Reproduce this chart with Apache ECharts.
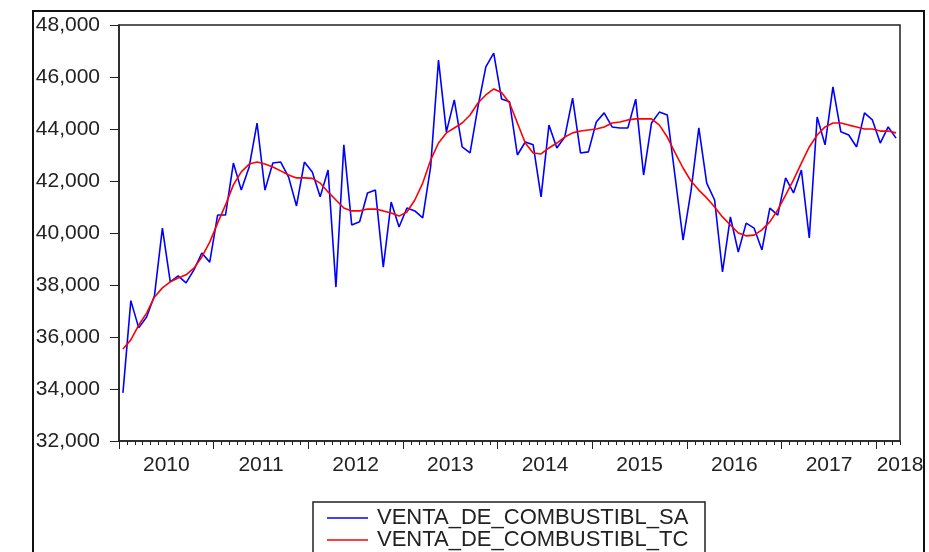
<!DOCTYPE html>
<html>
<head>
<meta charset="utf-8">
<style>
html, body { margin: 0; padding: 0; background: #fff; }
#chart { width: 929px; height: 552px; }
</style>
<script src="https://cdn.jsdelivr.net/npm/echarts@6/dist/echarts.min.js"></script>
</head>
<body>
<div id="chart"></div>
<script>
// monthly series, 2010M01 .. 2018M03
var years = ['2010', '2011', '2012', '2013', '2014', '2015', '2016', '2017', '2018'];
var seriesNames = ['VENTA_DE_COMBUSTIBL_SA', 'VENTA_DE_COMBUSTIBL_TC'];

var ventaSA = [
  33850, 37400, 36350, 36770, 37600, 40190, 38120, 38350, 38080, 38580, 39230, 38880,
  40690, 40690, 42690, 41650, 42540, 44230, 41650, 42690, 42730, 42150, 41040, 42730,
  42350, 41390, 42420, 37920, 43390, 40310, 40430, 41540, 41650, 38690, 41190, 40230,
  40960, 40850, 40580, 42540, 46650, 43890, 45120, 43310, 43080, 44850, 46390, 46920,
  45150, 45050, 43000, 43500, 43390, 41390, 44150, 43270, 43690, 45190, 43080, 43120,
  44270, 44620, 44080, 44040, 44040, 45150, 42230, 44230, 44650, 44540, 42150, 39730,
  41600, 44040, 41920, 41270, 38500, 40620, 39270, 40380, 40190, 39350, 40960, 40690,
  42120, 41540, 42420, 39810, 44460, 43390, 45620, 43890, 43770, 43310, 44620, 44350,
  43460, 44080, 43650
];

var ventaTC = [
  35540, 35890, 36460, 36920, 37540, 37890, 38120, 38270, 38390, 38650, 39080, 39650,
  40380, 41080, 41850, 42350, 42650, 42730, 42650, 42540, 42390, 42230, 42120, 42120,
  42100, 41920, 41580, 41270, 40960, 40850, 40850, 40920, 40920, 40850, 40770, 40650,
  40810, 41270, 41920, 42800, 43460, 43850, 44040, 44230, 44540, 45000, 45310, 45540,
  45400, 45000, 44230, 43460, 43080, 43040, 43270, 43460, 43690, 43850, 43920, 43960,
  44000, 44080, 44230, 44270, 44350, 44390, 44390, 44390, 44150, 43690, 43080, 42500,
  42000, 41650, 41350, 41000, 40620, 40310, 40000, 39890, 39920, 40120, 40430, 40890,
  41460, 42040, 42690, 43310, 43770, 44080, 44230, 44230, 44150, 44080, 44000, 44000,
  43920, 43920, 43850
];

var yMin = 32000, yMax = 48000, yStep = 2000;

var n = ventaSA.length;
var xMin = -0.5, xMax = n - 0.5;

// tick positions between months, longer ones between years
var monthEdges = [];
for (var i = 0; i <= n; i++) monthEdges.push(i - 0.5);
var yearEdges = [];
var yearPos = [];
var labelAt = {};
for (var k = 0; k < years.length; k++) {
  yearEdges.push(k * 12 - 0.5);
  var p = Math.min(k * 12 + 5.5, xMax);
  yearPos.push(p);
  labelAt[p] = years[k];
}

var font = "'Liberation Sans', Arial, sans-serif";
var ink = '#222';

var chart = echarts.init(document.getElementById('chart'));
chart.setOption({
  animation: false,
  grid: {
    left: 119, right: 29, top: 25, bottom: 111,
    show: true, borderColor: ink, borderWidth: 1.5
  },
  xAxis: [{
    type: 'value', position: 'bottom', min: xMin, max: xMax,
    axisLine: { onZero: false, lineStyle: { color: ink, width: 1.5 } },
    axisTick: { customValues: monthEdges, length: 4, lineStyle: { color: ink } },
    axisLabel: { show: false },
    splitLine: { show: false }
  }, {
    type: 'value', position: 'bottom', offset: 0, min: xMin, max: xMax,
    axisLine: { show: false, onZero: false },
    axisTick: { customValues: yearEdges, length: 8, lineStyle: { color: ink } },
    axisLabel: {
      customValues: yearPos, margin: 14,
      fontSize: 21, fontFamily: font, color: ink,
      formatter: function (v) { return labelAt[v] || ''; }
    },
    splitLine: { show: false }
  }],
  yAxis: {
    type: 'value', min: yMin, max: yMax, interval: yStep,
    axisLine: { show: true, onZero: false, lineStyle: { color: ink, width: 1.5 } },
    axisTick: { show: true, length: 9, lineStyle: { color: ink } },
    axisLabel: {
      margin: 19, fontSize: 21, fontFamily: font, color: ink,
      formatter: function (v) { return String(v).replace(/\B(?=(\d{3})+(?!\d))/g, ','); }
    },
    splitLine: { show: false }
  },
  legend: {
    orient: 'vertical', left: 327, top: 507,
    data: seriesNames,
    icon: 'rect',
    itemWidth: 41, itemHeight: 1.5, itemGap: 0,
    padding: 0,
    textStyle: { fontSize: 22, fontFamily: font, color: ink, lineHeight: 22, padding: [0, 0, 0, 4] }
  },
  graphic: [{
    type: 'rect',
    shape: { x: 33, y: 11, width: 891, height: 580 },
    style: { fill: 'none', stroke: '#111', lineWidth: 2 },
    silent: true
  }, {
    type: 'rect',
    shape: { x: 313, y: 502, width: 392, height: 80 },
    style: { fill: 'none', stroke: ink, lineWidth: 1.5 },
    silent: true
  }],
  series: [{
    name: seriesNames[0], type: 'line', symbol: 'none',
    lineStyle: { color: '#0000ff', width: 1.6 },
    itemStyle: { color: '#0000ff' },
    data: ventaSA.map(function (v, i) { return [i, v]; })
  }, {
    name: seriesNames[1], type: 'line', symbol: 'none',
    lineStyle: { color: '#ff0000', width: 1.6 },
    itemStyle: { color: '#ff0000' },
    data: ventaTC.map(function (v, i) { return [i, v]; })
  }]
});
</script>
</body>
</html>
